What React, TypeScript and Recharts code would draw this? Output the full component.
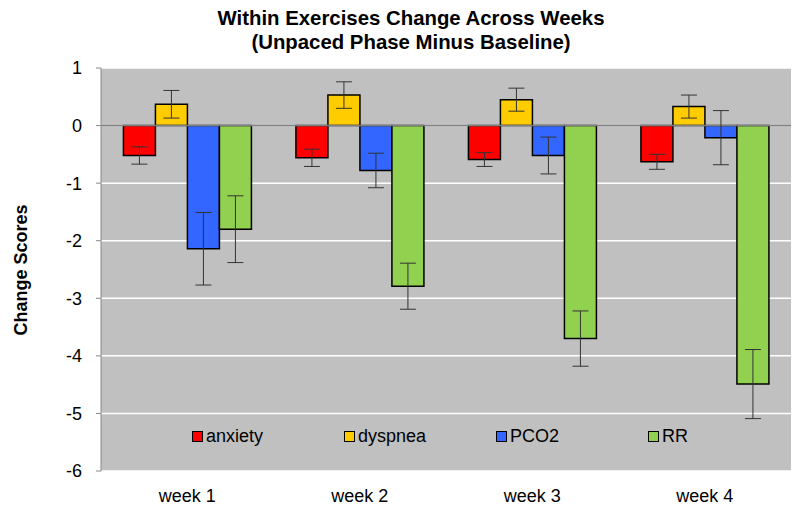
import React from "react";
import {
  BarChart,
  Bar,
  XAxis,
  YAxis,
  CartesianGrid,
  ErrorBar,
  ReferenceLine,
} from "recharts";

const weeks = ["week 1", "week 2", "week 3", "week 4"];
const anxiety = [-0.52, -0.56, -0.59, -0.63];
const anxietyErr = [0.15, 0.15, 0.12, 0.13];
const dyspnea = [0.37, 0.53, 0.45, 0.33];
const dyspneaErr = [0.24, 0.23, 0.2, 0.2];
const pco2 = [-2.14, -0.78, -0.52, -0.21];
const pco2Err = [0.63, 0.3, 0.32, 0.47];
const rr = [-1.8, -2.79, -3.7, -4.49];
const rrErr = [0.58, 0.4, 0.48, 0.6];
const yTicks = [-6, -5, -4, -3, -2, -1, 0, 1];

const series = [
  { key: "anxiety", color: "#FF0000" },
  { key: "dyspnea", color: "#FFCC00" },
  { key: "PCO2", color: "#3366FF" },
  { key: "RR", color: "#92D050" },
];

const data = weeks.map((w, i) => ({
  week: w,
  anxiety: anxiety[i],
  anxietyErr: anxietyErr[i],
  dyspnea: dyspnea[i],
  dyspneaErr: dyspneaErr[i],
  PCO2: pco2[i],
  PCO2Err: pco2Err[i],
  RR: rr[i],
  RRErr: rrErr[i],
}));

const FONT = "Arial, 'Liberation Sans', sans-serif";

// legend sits inside the plot area, below the bars
function ChartLegend() {
  return (
    <div style={{ position: "absolute", left: 192, top: 425, height: 24 }}>
      {series.map((s, i) => (
        <div
          key={s.key}
          style={{
            position: "absolute",
            left: i * 152,
            top: 0,
            display: "flex",
            alignItems: "center",
            fontFamily: FONT,
            fontSize: 18,
            lineHeight: "22px",
            color: "#000",
            whiteSpace: "nowrap",
          }}
        >
          <span
            style={{
              display: "inline-block",
              width: 9,
              height: 9,
              background: s.color,
              border: "1.5px solid #000",
              marginRight: 3,
            }}
          />
          {s.key}
        </div>
      ))}
    </div>
  );
}

export default function App() {
  return (
    <div
      style={{
        position: "absolute",
        left: 0,
        top: 0,
        width: 800,
        height: 511,
        background: "#fff",
      }}
    >
      <BarChart
        width={800}
        height={511}
        data={data}
        margin={{ top: 68, right: 9, bottom: 0, left: 41 }}
        barGap={0}
        barCategoryGap="13%"
      >
        <CartesianGrid
          vertical={false}
          stroke="#FFFFFF"
          strokeWidth={1.5}
          fill="#C0C0C0"
          fillOpacity={1}
        />
        <XAxis
          dataKey="week"
          axisLine={false}
          tickLine={false}
          height={40}
          tick={{ fontFamily: FONT, fontSize: 18, fill: "#000" }}
          tickMargin={12}
        />
        <YAxis
          width={60}
          domain={[-6, 1]}
          ticks={yTicks}
          interval={0}
          axisLine={{ stroke: "#888" }}
          tickLine={{ stroke: "#888" }}
          tickSize={5}
          tickMargin={14}
          tick={{ fontFamily: FONT, fontSize: 18, fill: "#000" }}
        />
        <ReferenceLine y={0} stroke="#808080" strokeWidth={1.5} />
        {series.map((s) => (
          <Bar
            key={s.key}
            dataKey={s.key}
            fill={s.color}
            stroke="#000"
            strokeWidth={1.5}
            isAnimationActive={false}
          >
            <ErrorBar
              dataKey={s.key + "Err"}
              width={8}
              stroke="#333"
              strokeWidth={1}
              direction="y"
            />
          </Bar>
        ))}
      </BarChart>
      <div
        style={{
          position: "absolute",
          left: 0,
          top: 6,
          width: 822,
          textAlign: "center",
          fontFamily: FONT,
          fontWeight: "bold",
          fontSize: 21,
          lineHeight: "24px",
          color: "#000",
          transform: "scaleX(0.97)",
          transformOrigin: "411px 0",
        }}
      >
        Within Exercises Change Across Weeks
        <br />
        (Unpaced Phase Minus Baseline)
      </div>
      <div
        style={{
          position: "absolute",
          left: 21,
          top: 270,
          transform: "translate(-50%, -50%) rotate(-90deg)",
          fontFamily: FONT,
          fontWeight: "bold",
          fontSize: 18,
          whiteSpace: "nowrap",
          color: "#000",
        }}
      >
        Change Scores
      </div>
      <ChartLegend />
    </div>
  );
}
